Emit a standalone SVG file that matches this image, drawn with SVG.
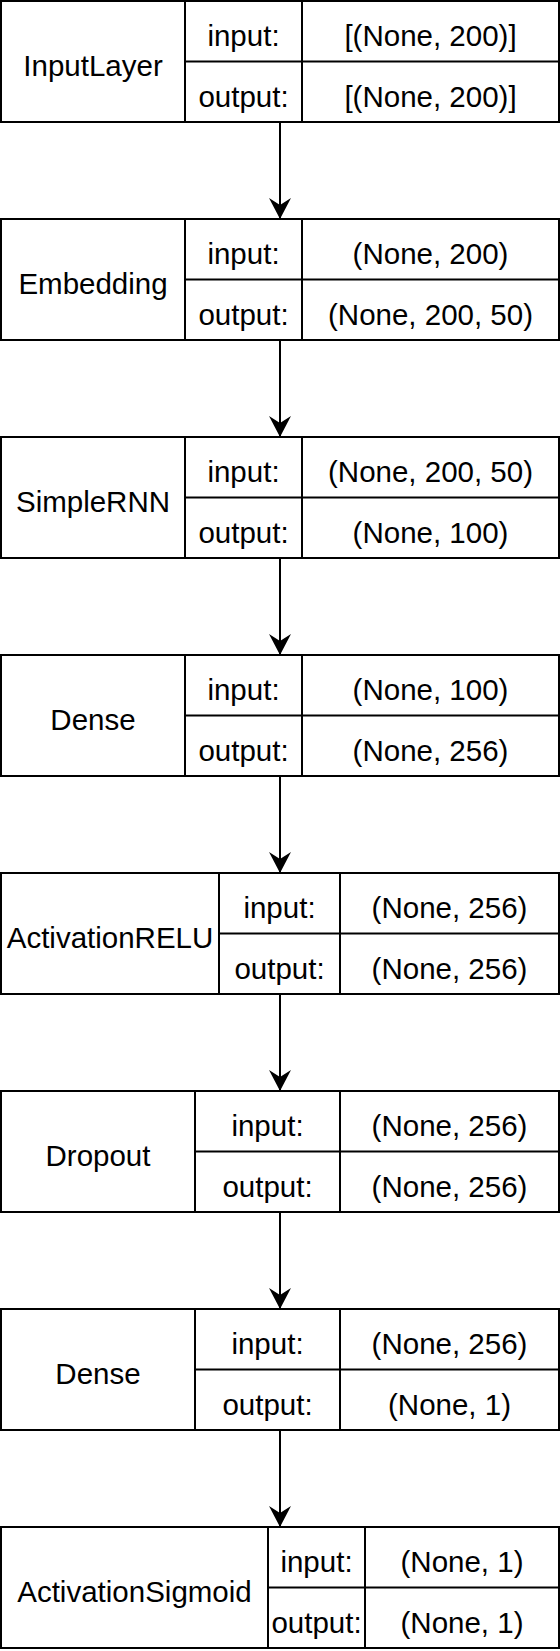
<svg xmlns="http://www.w3.org/2000/svg" width="560" height="1651" viewBox="0 0 560 1651">
<style>
.box{fill:#fff;stroke:#000;stroke-width:2}
.ln{fill:none;stroke:#000;stroke-width:2}
text{font-family:"Liberation Sans",Arial,sans-serif;font-size:29.5px;fill:#000;text-anchor:middle}
.edge{fill:none;stroke:#000;stroke-width:2}
</style>
<defs>
<marker id="ah" markerUnits="userSpaceOnUse" markerWidth="24" markerHeight="24" viewBox="0 0 24 24" refX="22" refY="12" orient="auto">
<path d="M22,12 L1,1 L8,12 L1,23 Z" fill="#000"/>
</marker>
</defs>
<g id="connectors">
<line class="edge" x1="280" y1="122" x2="280" y2="219" marker-end="url(#ah)"/>
<line class="edge" x1="280" y1="340" x2="280" y2="437" marker-end="url(#ah)"/>
<line class="edge" x1="280" y1="558" x2="280" y2="655" marker-end="url(#ah)"/>
<line class="edge" x1="280" y1="776" x2="280" y2="873" marker-end="url(#ah)"/>
<line class="edge" x1="280" y1="994" x2="280" y2="1091" marker-end="url(#ah)"/>
<line class="edge" x1="280" y1="1212" x2="280" y2="1309" marker-end="url(#ah)"/>
<line class="edge" x1="280" y1="1430" x2="280" y2="1527" marker-end="url(#ah)"/>
</g>
<g id="n1">
<rect class="box" x="1" y="1" width="558" height="121"/>
<line class="ln" x1="185" y1="1" x2="185" y2="122"/>
<line class="ln" x1="302" y1="1" x2="302" y2="122"/>
<line class="ln" x1="185" y1="61.5" x2="559" y2="61.5"/>
<text x="93" y="76">InputLayer</text>
<text x="243.5" y="46">input:</text>
<text x="243.5" y="107">output:</text>
<text x="430.5" y="46">[(None, 200)]</text>
<text x="430.5" y="107">[(None, 200)]</text>
</g>
<g id="n2">
<rect class="box" x="1" y="219" width="558" height="121"/>
<line class="ln" x1="185" y1="219" x2="185" y2="340"/>
<line class="ln" x1="302" y1="219" x2="302" y2="340"/>
<line class="ln" x1="185" y1="279.5" x2="559" y2="279.5"/>
<text x="93" y="294">Embedding</text>
<text x="243.5" y="264">input:</text>
<text x="243.5" y="325">output:</text>
<text x="430.5" y="264">(None, 200)</text>
<text x="430.5" y="325">(None, 200, 50)</text>
</g>
<g id="n3">
<rect class="box" x="1" y="437" width="558" height="121"/>
<line class="ln" x1="185" y1="437" x2="185" y2="558"/>
<line class="ln" x1="302" y1="437" x2="302" y2="558"/>
<line class="ln" x1="185" y1="497.5" x2="559" y2="497.5"/>
<text x="93" y="512">SimpleRNN</text>
<text x="243.5" y="482">input:</text>
<text x="243.5" y="543">output:</text>
<text x="430.5" y="482">(None, 200, 50)</text>
<text x="430.5" y="543">(None, 100)</text>
</g>
<g id="n4">
<rect class="box" x="1" y="655" width="558" height="121"/>
<line class="ln" x1="185" y1="655" x2="185" y2="776"/>
<line class="ln" x1="302" y1="655" x2="302" y2="776"/>
<line class="ln" x1="185" y1="715.5" x2="559" y2="715.5"/>
<text x="93" y="730">Dense</text>
<text x="243.5" y="700">input:</text>
<text x="243.5" y="761">output:</text>
<text x="430.5" y="700">(None, 100)</text>
<text x="430.5" y="761">(None, 256)</text>
</g>
<g id="n5">
<rect class="box" x="1" y="873" width="558" height="121"/>
<line class="ln" x1="219" y1="873" x2="219" y2="994"/>
<line class="ln" x1="340" y1="873" x2="340" y2="994"/>
<line class="ln" x1="219" y1="933.5" x2="559" y2="933.5"/>
<text x="110" y="948">ActivationRELU</text>
<text x="279.5" y="918">input:</text>
<text x="279.5" y="979">output:</text>
<text x="449.5" y="918">(None, 256)</text>
<text x="449.5" y="979">(None, 256)</text>
</g>
<g id="n6">
<rect class="box" x="1" y="1091" width="558" height="121"/>
<line class="ln" x1="195" y1="1091" x2="195" y2="1212"/>
<line class="ln" x1="340" y1="1091" x2="340" y2="1212"/>
<line class="ln" x1="195" y1="1151.5" x2="559" y2="1151.5"/>
<text x="98" y="1166">Dropout</text>
<text x="267.5" y="1136">input:</text>
<text x="267.5" y="1197">output:</text>
<text x="449.5" y="1136">(None, 256)</text>
<text x="449.5" y="1197">(None, 256)</text>
</g>
<g id="n7">
<rect class="box" x="1" y="1309" width="558" height="121"/>
<line class="ln" x1="195" y1="1309" x2="195" y2="1430"/>
<line class="ln" x1="340" y1="1309" x2="340" y2="1430"/>
<line class="ln" x1="195" y1="1369.5" x2="559" y2="1369.5"/>
<text x="98" y="1384">Dense</text>
<text x="267.5" y="1354">input:</text>
<text x="267.5" y="1415">output:</text>
<text x="449.5" y="1354">(None, 256)</text>
<text x="449.5" y="1415">(None, 1)</text>
</g>
<g id="n8">
<rect class="box" x="1" y="1527" width="558" height="121"/>
<line class="ln" x1="268" y1="1527" x2="268" y2="1648"/>
<line class="ln" x1="365" y1="1527" x2="365" y2="1648"/>
<line class="ln" x1="268" y1="1587.5" x2="559" y2="1587.5"/>
<text x="134.5" y="1602">ActivationSigmoid</text>
<text x="316.5" y="1572">input:</text>
<text x="316.5" y="1633">output:</text>
<text x="462" y="1572">(None, 1)</text>
<text x="462" y="1633">(None, 1)</text>
</g>
</svg>
